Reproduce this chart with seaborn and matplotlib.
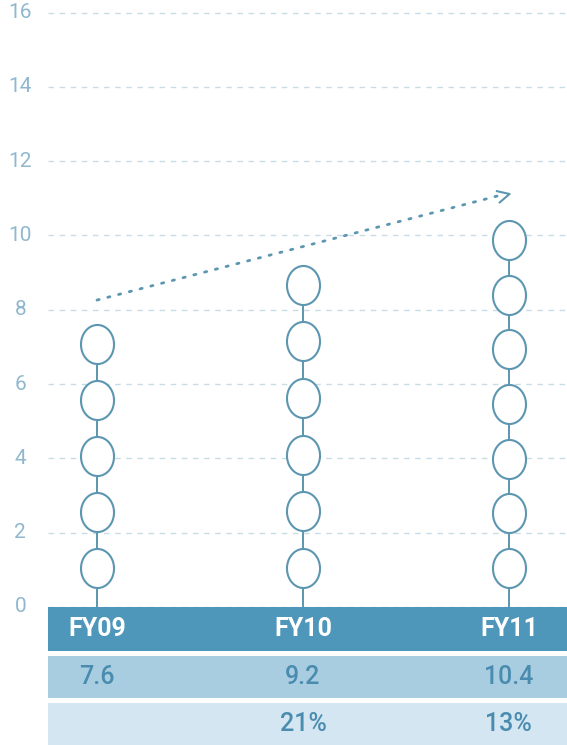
import numpy as np
import pandas as pd
import matplotlib
matplotlib.use("Agg")
import matplotlib.pyplot as plt
from matplotlib.path import Path
from matplotlib.markers import MarkerStyle
from matplotlib.transforms import Affine2D, ScaledTranslation
import seaborn as sns

# data
years = ["FY09", "FY10", "FY11"]
values = [7.6, 9.2, 10.4]
growth = ["", "21%", "13%"]
circle_counts = [5, 6, 7]
trend_start = 8.26
trend_end = 11.1

sns.set_style("white")
plt.rcParams['font.family'] = ['Roboto', 'DejaVu Sans']

stroke = "#5c96b0"
tick_col = "#8fb8ce"
dark_row = "#4f97ba"
mid_row = "#a9cde0"
light_row = "#d3e6f1"
txt_col = "#4a8cb0"

fig = plt.figure(figsize=(5.67, 7.45), dpi=100)
ax = fig.add_axes([48 / 567, 0, 1 - 48 / 567, 1])

# circle centres: bottom circle fixed, top circle touching the value
rows = []
for i, (yr, v, n) in enumerate(zip(years, values, circle_counts)):
    for c in np.linspace(1.05, v - 0.53, n):
        rows.append({"year": i, "y": c})
df = pd.DataFrame(rows)

# stems
ax.vlines(range(len(years)), 0, [df[df.year == i].y.max() for i in range(len(years))],
          color=stroke, lw=1.4, zorder=2)

# ellipse marker (slightly taller than wide)
t = np.linspace(0, 2 * np.pi, 60)
ell = Path(np.column_stack([0.5 * 0.846 * np.cos(t), 0.5 * np.sin(t)]), closed=True)
sns.scatterplot(data=df, x="year", y="y", marker=ell, s=790, color="white",
                edgecolor=stroke, linewidth=1.5, zorder=3, ax=ax, legend=False)

# dotted trend arrow
ax.plot([0, 1.97], [trend_start, trend_end], color=stroke, lw=2.0,
        linestyle=(0, (0.8, 3.2)), dash_capstyle="round", zorder=2)
chev = Path([(-0.5, 0.5), (0.5, 0), (-0.5, -0.5)],
            [Path.MOVETO, Path.LINETO, Path.LINETO])
ax.plot([1.97], [trend_end], marker=MarkerStyle(chev, transform=Affine2D().rotate_deg(14)),
        markersize=9, markerfacecolor="none", markeredgecolor=stroke, mew=1.5, zorder=3)

# table rows under the chart
ax.axhspan(-1.18, 0, color=dark_row, lw=0, zorder=4)
ax.axhspan(-2.45, -1.32, color=mid_row, lw=0, zorder=4)
ax.axhspan(-3.72, -2.58, color=light_row, lw=0, zorder=4)
for i in range(len(years)):
    ax.text(i, -0.59, years[i], ha="center", va="center", color="white",
            fontsize=18, fontweight="bold", zorder=5)
    ax.text(i, -1.885, f"{values[i]}", ha="center", va="center", color=txt_col,
            fontsize=18, fontweight="medium", zorder=5)
    ax.text(i, -3.15, growth[i], ha="center", va="center", color=txt_col,
            fontsize=18, fontweight="medium", zorder=5)

ax.set_xlim(-0.238, 2.282)
ax.set_ylim(-3.72, 16.34)
ax.set_yticks(range(0, 17, 2))
ax.set_yticklabels([str(v) for v in range(0, 17, 2)], color=tick_col, fontsize=15,
                   ha="center", va="center")
shift = ScaledTranslation(0, -5 / 72, fig.dpi_scale_trans)
for lab in ax.get_yticklabels():
    lab.set_transform(lab.get_transform() + shift)
ax.tick_params(axis="y", length=0, pad=20)
ax.set_xticks([])
ax.set_xlabel("")
ax.set_ylabel("")
ax.yaxis.grid(True, color="#c9dce6", linestyle=(0, (4, 4)), lw=1.0)
ax.set_axisbelow(True)
for s in ax.spines.values():
    s.set_visible(False)

fig.savefig("out.png", dpi=100)
